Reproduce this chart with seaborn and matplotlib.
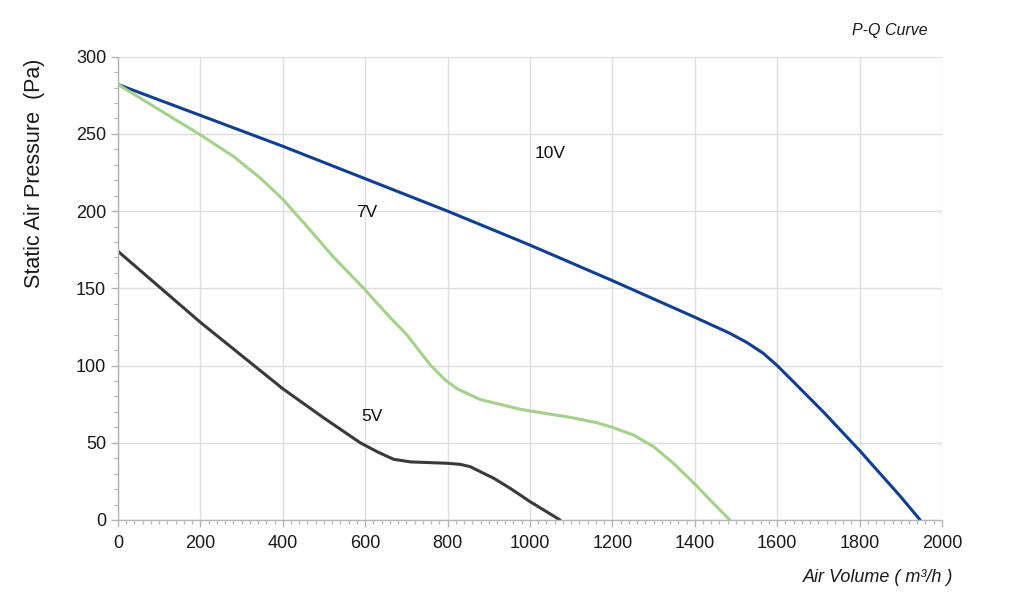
import pandas as pd
import matplotlib
matplotlib.use("Agg")
import matplotlib.pyplot as plt
from matplotlib.ticker import MultipleLocator
import seaborn as sns

# P-Q curve
q_10v = [0, 200, 400, 600, 800, 1000, 1200, 1400, 1445, 1485, 1526, 1566, 1600,
         1639, 1671, 1712, 1800, 1900, 1947]
p_10v = [282, 262, 242, 221, 200, 178, 155, 131.3, 125.8, 120.9, 115, 108, 100,
         89.6, 81, 70, 45, 15, 0]

q_7v = [0, 95, 200, 281, 346, 400, 459, 524, 600, 620, 661, 701, 730, 758, 794, 823,
        879, 976, 1000, 1097, 1162, 1200, 1251, 1300, 1348, 1400, 1445, 1485]
p_7v = [282, 266.5, 249.4, 235.3, 221.3, 207.7, 190, 170, 149, 143, 131, 120, 110,
        100.4, 90.7, 85, 78, 71.7, 70.6, 66.5, 63, 60, 55, 47.5, 36.7, 23.3, 10.8, 0]

q_5v = [0, 200, 400, 500, 588, 629, 669, 710, 800, 831, 855, 912, 952, 1000, 1073]
p_5v = [174, 128, 85, 66, 50, 44.2, 39.3, 37.6, 36.7, 36, 34.5, 27, 20.5, 11.9, 0]

speeds = ["10V", "7V", "5V"]
label_pos = {"10V": (1049, 237), "7V": (605, 199), "5V": (617, 67)}
colors = {"10V": "#0f3f8e", "7V": "#a5d18c", "5V": "#3a3a3a"}

df = pd.concat([
    pd.DataFrame({"q": q_10v, "p": p_10v, "speed": "10V"}),
    pd.DataFrame({"q": q_7v, "p": p_7v, "speed": "7V"}),
    pd.DataFrame({"q": q_5v, "p": p_5v, "speed": "5V"}),
])

sns.set_theme(style="white")
plt.rcParams["font.family"] = ["Liberation Sans", "DejaVu Sans"]

fig = plt.figure(figsize=(10.24, 6.11), dpi=100)
ax = fig.add_axes([0.1152, 0.149, 0.8047, 0.7582])

sns.lineplot(data=df, x="q", y="p", hue="speed", palette=colors, hue_order=speeds,
             sort=False, estimator=None, linewidth=2.2, legend=False, ax=ax)
for line in ax.lines:
    line.set_solid_joinstyle("round")

for s in speeds:
    ax.text(label_pos[s][0], label_pos[s][1], s, fontsize=12.5, color="#111111",
            ha="center", va="center")

ax.set_xlim(0, 2000)
ax.set_ylim(0, 300)
ax.xaxis.set_major_locator(MultipleLocator(200))
ax.xaxis.set_minor_locator(MultipleLocator(20))
ax.yaxis.set_major_locator(MultipleLocator(50))
ax.yaxis.set_minor_locator(MultipleLocator(10))
ax.grid(True, which="major", color="#dedede", linewidth=1.0)
ax.set_axisbelow(True)

for side in ["top", "right"]:
    ax.spines[side].set_visible(False)
for side in ["left", "bottom"]:
    ax.spines[side].set_color("#b5b5b5")
    ax.spines[side].set_linewidth(1.0)

ax.tick_params(which="major", length=5, width=1, color="#b5b5b5", labelsize=13,
               labelcolor="#1a1a1a", left=True, bottom=True)
ax.tick_params(which="minor", length=3, width=0.8, color="#b5b5b5", left=True, bottom=True)
ax.tick_params(axis="x", pad=5.5)
ax.tick_params(axis="y", pad=3.5)
ax.set_xlabel("")
ax.set_ylabel("")

fig.text(35 / 1024, 1 - 173 / 611, "Static Air Pressure  (Pa)", rotation=90,
         fontsize=15.5, color="#1a1a1a", ha="center", va="center")
fig.text(953 / 1024, 1 - 577 / 611, "Air Volume ( m³/h )", fontsize=13, style="italic",
         color="#1a1a1a", ha="right", va="center")
fig.text(928 / 1024, 1 - 31 / 611, "P-Q Curve", fontsize=11.5, style="italic",
         color="#1a1a1a", ha="right", va="center")

fig.savefig("out.png", dpi=100, facecolor="white")
